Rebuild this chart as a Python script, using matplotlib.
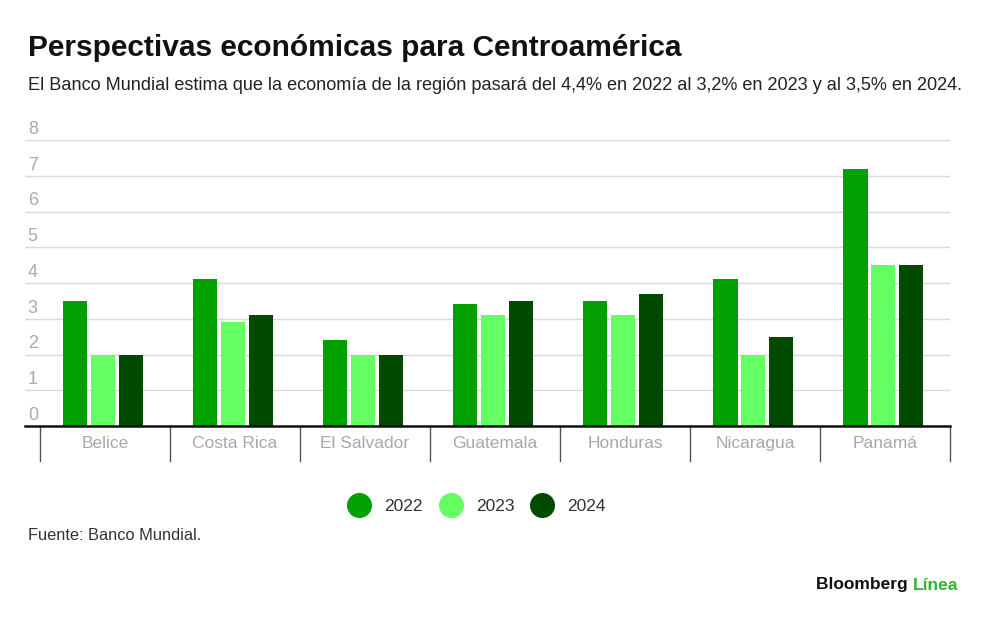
import matplotlib
matplotlib.use("Agg")
import matplotlib.pyplot as plt
import numpy as np
from matplotlib.lines import Line2D
import matplotlib.transforms as mtransforms

categories = ["Belice", "Costa Rica", "El Salvador", "Guatemala", "Honduras", "Nicaragua", "Panamá"]
years = ["2022", "2023", "2024"]
v2022 = [3.5, 4.1, 2.4, 3.4, 3.5, 4.1, 7.2]
v2023 = [2.0, 2.9, 2.0, 3.1, 3.1, 2.0, 4.5]
v2024 = [2.0, 3.1, 2.0, 3.5, 3.7, 2.5, 4.5]
yticks = [0, 1, 2, 3, 4, 5, 6, 7, 8]
colors = ["#00a000", "#63ff63", "#004a00"]

plt.rcParams['font.family'] = ['Liberation Sans', 'DejaVu Sans']

fig = plt.figure(figsize=(10, 6.3), dpi=100)
ax = fig.add_axes([0.025, 1 - 426/630, 0.925, (426-140)/630])

x = np.arange(len(categories))
w = 0.185
step = 0.212
for i, (vals, c) in enumerate(zip([v2022, v2023, v2024], colors)):
    ax.bar(x - 0.015 + (i - 1) * step, vals, width=w, color=c, zorder=3, label=years[i])

ax.set_xlim(-0.615, 6.5)
ax.set_ylim(0, 8)
for t in yticks[1:]:
    ax.axhline(t, color="#d9d9d9", lw=1, zorder=1)
ax.axhline(0, color="#111111", lw=1.8, zorder=4, clip_on=False)

trans = mtransforms.blended_transform_factory(ax.transAxes, ax.transData)
for t in yticks:
    ax.text(0.003, t + 0.06, str(t), transform=trans, ha="left", va="bottom",
            fontsize=13, color="#aaaaaa")

for s in ax.spines.values():
    s.set_visible(False)
ax.set_xticks([])
ax.set_yticks([])

# category separators and labels
sep_trans = mtransforms.blended_transform_factory(ax.transData, fig.transFigure)
for b in np.arange(-0.5, 7.0, 1.0):
    ax.add_line(Line2D([b, b], [1 - 426/630, 1 - 461/630], transform=sep_trans,
                       color="#555555", lw=1, clip_on=False))
for xi, c in zip(x, categories):
    ax.text(xi, 1 - 448/630, c, transform=sep_trans, ha="center", va="baseline",
            fontsize=12.5, color="#a8a8a8", clip_on=False)

fig.text(0.028, 1 - 48/630, "Perspectivas económicas para Centroamérica",
         fontsize=21.5, fontweight="bold", color="#111111", ha="left", va="center")
fig.text(0.028, 1 - 85/630,
         "El Banco Mundial estima que la economía de la región pasará del 4,4% en 2022 al 3,2% en 2023 y al 3,5% en 2024.",
         fontsize=13.1, color="#222222", ha="left", va="center")

handles = [Line2D([], [], marker="o", ls="none", markersize=17, markerfacecolor=c,
                  markeredgecolor=c) for c in colors]
fig.legend(handles, years, loc="center", bbox_to_anchor=(0.474, 1 - 506/630), ncol=3,
           frameon=False, fontsize=12.5, handletextpad=0.45, columnspacing=0.6,
           labelcolor="#333333")

fig.text(0.028, 1 - 536/630, "Fuente: Banco Mundial.", fontsize=11.8, color="#333333",
         ha="left", va="center")
fig.text(0.913, 1 - 585/630, "Bloomberg ", fontsize=12.5, fontweight="bold",
         color="#111111", ha="right", va="center")
fig.text(0.913, 1 - 585/630, "Línea", fontsize=12.5, fontweight="bold",
         color="#2fb52f", ha="left", va="center")

fig.savefig("out.png", dpi=100, facecolor="white")
